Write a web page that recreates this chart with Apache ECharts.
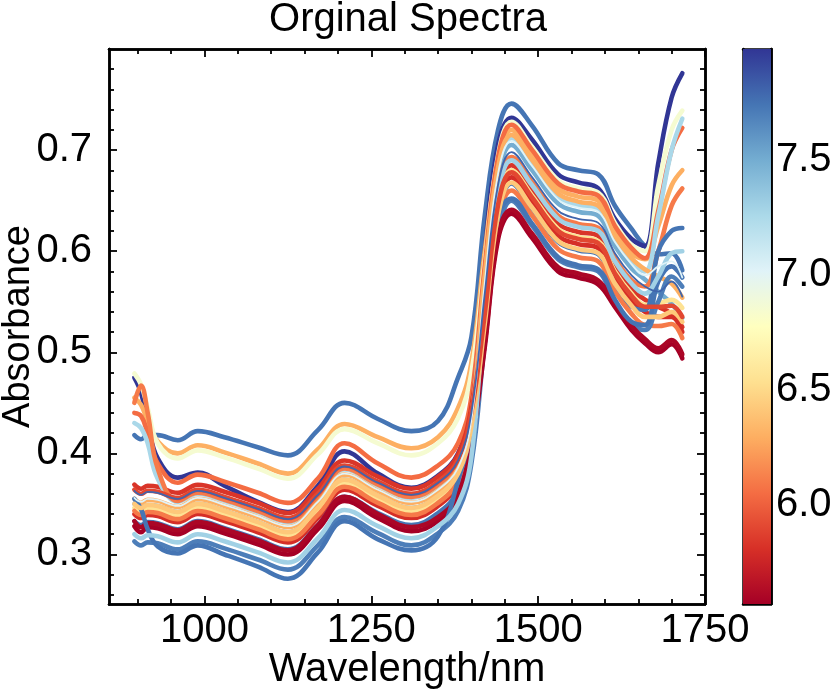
<!DOCTYPE html>
<html><head><meta charset="utf-8">
<script src="https://cdn.jsdelivr.net/npm/echarts@6/dist/echarts.min.js"></script>
<style>html,body{margin:0;padding:0;background:#fff}#c{width:838px;height:695px}</style>
</head><body><div id="c"></div>
<script>
// ---------------- data ----------------
const wavelengths = [895, 905, 915, 930, 960, 990, 1030, 1080, 1125, 1170, 1210, 1260, 1310, 1350, 1380, 1400, 1420, 1440, 1460, 1490, 1530, 1560, 1590, 1615, 1640, 1660, 1680, 1700, 1716];

// colour value (colorbar) of each spectrum
const levels = [7.74, 7.98, 6.30, 6.85, 6.05, 5.83, 7.26, 7.50, 6.10, 6.30, 6.55, 5.80, 7.74, 6.10, 7.70, 5.57, 5.60, 7.74, 7.30, 6.42, 5.90, 7.02, 7.80];
const thinSpectra = [21, 22];

const s01 = [.418,.414,.418,.418,.413,.422,.416,.406,.398,.423,.450,.434,.422,.432,.475,.515,.635,.720,.746,.725,.687,.680,.676,.645,.622,.605,.597,.598,.581];
const s02 = [.475,.460,.430,.395,.376,.381,.368,.352,.342,.368,.402,.380,.366,.378,.400,.447,.600,.705,.732,.711,.676,.668,.662,.632,.612,.605,.687,.752,.776];
const s03 = [.455,.448,.432,.412,.400,.408,.401,.390,.380,.404,.429,.416,.405,.416,.445,.490,.600,.690,.720,.696,.662,.654,.650,.620,.598,.592,.625,.665,.680];
const s04 = [.479,.468,.445,.410,.395,.403,.396,.385,.375,.399,.424,.410,.398,.410,.435,.480,.590,.695,.728,.704,.670,.662,.658,.628,.606,.600,.665,.720,.739];
const s05 = [.440,.437,.420,.390,.371,.379,.372,.361,.351,.375,.410,.390,.376,.388,.410,.456,.585,.693,.725,.701,.667,.659,.655,.625,.603,.593,.640,.700,.722];
const s06 = [.369,.365,.368,.367,.361,.369,.362,.351,.341,.365,.393,.377,.365,.377,.399,.446,.545,.653,.685,.661,.627,.619,.615,.585,.563,.552,.545,.538,.525];
const s07 = [.430,.425,.410,.375,.352,.360,.353,.342,.332,.356,.384,.368,.356,.368,.390,.437,.571,.679,.711,.687,.653,.645,.641,.611,.589,.580,.635,.700,.731];
const s08 = [.350,.346,.349,.348,.342,.350,.343,.332,.322,.346,.374,.358,.346,.358,.380,.427,.565,.673,.705,.681,.647,.639,.635,.605,.583,.572,.560,.548,.534];
const s09 = [.450,.467,.440,.385,.353,.361,.354,.343,.333,.357,.385,.369,.357,.369,.391,.438,.553,.661,.693,.669,.635,.627,.623,.593,.571,.565,.600,.645,.662];
const s10 = [.355,.351,.354,.353,.347,.355,.348,.337,.327,.351,.379,.363,.351,.363,.385,.432,.575,.683,.715,.691,.657,.649,.645,.615,.593,.582,.575,.568,.554];
const s11 = [.346,.342,.345,.344,.338,.346,.339,.328,.318,.342,.370,.354,.342,.354,.376,.423,.540,.648,.680,.656,.622,.614,.610,.580,.558,.547,.548,.552,.544];
const s12 = [.340,.336,.339,.338,.332,.340,.333,.322,.312,.336,.364,.348,.336,.348,.370,.417,.533,.641,.673,.649,.615,.607,.603,.573,.551,.540,.535,.535,.520];
const s13 = [.333,.329,.332,.331,.325,.333,.326,.315,.305,.329,.357,.341,.329,.341,.363,.410,.527,.635,.667,.643,.609,.601,.597,.567,.545,.542,.600,.620,.623];
const s14 = [.343,.339,.342,.341,.335,.343,.336,.325,.315,.339,.367,.351,.339,.351,.373,.420,.520,.628,.660,.636,.602,.594,.590,.560,.538,.527,.526,.528,.514];
const s15 = [.313,.309,.312,.311,.305,.313,.306,.295,.285,.309,.337,.321,.309,.321,.343,.390,.510,.618,.650,.626,.592,.584,.580,.550,.528,.522,.550,.575,.565];
const s16 = [.328,.322,.327,.326,.320,.328,.321,.310,.300,.325,.353,.336,.323,.333,.355,.410,.505,.612,.637,.614,.580,.574,.567,.545,.522,.509,.500,.508,.494];
const s17 = [.333,.327,.331,.330,.324,.332,.325,.314,.304,.329,.357,.340,.327,.337,.359,.414,.509,.616,.641,.618,.584,.578,.571,.549,.526,.513,.504,.512,.498];
const s18 = [.355,.345,.325,.308,.301,.309,.300,.288,.276,.302,.333,.315,.304,.318,.373,.425,.540,.635,.652,.628,.594,.586,.582,.552,.530,.527,.570,.585,.574];
const s19 = [.320,.316,.319,.318,.312,.320,.313,.302,.292,.316,.344,.328,.316,.328,.350,.397,.550,.658,.690,.666,.632,.624,.620,.590,.568,.558,.575,.598,.600];
const s20 = [.350,.346,.349,.348,.342,.350,.343,.332,.322,.346,.374,.358,.346,.358,.380,.427,.528,.636,.668,.644,.610,.602,.598,.568,.546,.535,.535,.540,.530];
const s21 = [.364,.360,.363,.362,.356,.364,.357,.346,.336,.360,.388,.372,.360,.372,.394,.441,.538,.646,.678,.654,.620,.612,.608,.578,.556,.545,.545,.546,.535];
const s22 = [.356,.352,.355,.354,.348,.356,.349,.338,.328,.352,.380,.364,.352,.364,.386,.433,.569,.677,.709,.685,.651,.643,.639,.609,.587,.576,.585,.590,.574];
const s23 = [.363,.359,.362,.361,.355,.363,.356,.345,.335,.359,.387,.371,.359,.371,.393,.440,.558,.666,.698,.674,.640,.632,.628,.598,.576,.565,.560,.570,.555];
const spectra = [s01,s02,s03,s04,s05,s06,s07,s08,s09,s10,s11,s12,s13,s14,s15,s16,s17,s18,s19,s20,s21,s22,s23];

// ticks
const xMajorTicks = [1000, 1250, 1500, 1750];
const xMinorTicks = [900, 950, 1050, 1100, 1150, 1200, 1300, 1350, 1400, 1450, 1550, 1600, 1650, 1700];
const yMajorTicks = [0.3, 0.4, 0.5, 0.6, 0.7];
const yMinorTicks = [0.26, 0.28, 0.32, 0.34, 0.36, 0.38, 0.42, 0.44, 0.46, 0.48, 0.52, 0.54, 0.56, 0.58, 0.62, 0.64, 0.66, 0.68, 0.72, 0.74, 0.76, 0.78];
const cbMajorTicks = [6.0, 6.5, 7.0, 7.5];
const cbMinorTicks = [5.6, 5.7, 5.8, 5.9, 6.1, 6.2, 6.3, 6.4, 6.6, 6.7, 6.8, 6.9, 7.1, 7.2, 7.3, 7.4, 7.6, 7.7, 7.8, 7.9];
const cbMin = 5.57, cbMax = 7.98;

// ---------------- styling ----------------
const rdylbu = ['#a50026','#d73027','#f46d43','#fdae61','#fee090','#ffffbf','#e0f3f8','#abd9e9','#74add1','#4575b4','#313695'];
function hex2rgb(h){return [parseInt(h.substr(1,2),16),parseInt(h.substr(3,2),16),parseInt(h.substr(5,2),16)];}
function colorFor(v){
  let t = (v - cbMin) / (cbMax - cbMin); t = Math.max(0, Math.min(1, t));
  const p = t * (rdylbu.length - 1), i = Math.min(Math.floor(p), rdylbu.length - 2), f = p - i;
  const a = hex2rgb(rdylbu[i]), b = hex2rgb(rdylbu[i+1]);
  const c = a.map((x,k)=>Math.round(x + (b[k]-x)*f));
  return 'rgb(' + c.join(',') + ')';
}
const FONT = 'Liberation Sans, Arial, Helvetica, sans-serif';
const FS = 40;
const FSY = 38;
const black = '#000';
const G = {left:109, top:49, width:596, height:555};
const CB = {left:743, top:49, width:28, height:555};

function tickAxis(base, pos, vals, len, extra){
  return Object.assign({
    type:'value', position:pos, min:base.min, max:base.max, gridIndex:base.grid,
    axisLine:{show:true, onZero:false, lineStyle:{color:black, width:2.5}},
    axisTick:{show:true, inside:true, length:len, customValues:vals, lineStyle:{color:black, width:1.8}},
    axisLabel:{show:false}, splitLine:{show:false}
  }, extra || {});
}
const xb = {min:857, max:1750, grid:0};
const yb = {min:0.251, max:0.80, grid:0};
const cb = {min:cbMin, max:cbMax, grid:1};

const series = spectra.map((arr, i) => ({
  type:'line', xAxisIndex:0, yAxisIndex:0, name:'s'+(i+1),
  data: arr.map((v, k) => [wavelengths[k], v]),
  smooth:0.4, showSymbol:false, symbol:'none', clip:true,
  lineStyle:{width: thinSpectra.includes(i) ? 1.8 : 4.6, color: colorFor(levels[i]), cap:'round', join:'round'},
  z: 2
}));
series.push({
  type:'bar', xAxisIndex:4, yAxisIndex:4, data:[cbMax], barWidth:'100%', clip:true,
  itemStyle:{color: new echarts.graphic.LinearGradient(0, CB.top, 0, CB.top + CB.height,
    rdylbu.slice().reverse().map((c, k) => ({offset: k / (rdylbu.length - 1), color: c})), true)},
  z: 1
});

const option = {
  animation:false,
  backgroundColor:'#fff',
  textStyle:{fontFamily:FONT},
  title:{text:'Orginal Spectra', left:408, top:0, textAlign:'center', padding:0,
    textStyle:{fontFamily:FONT, fontSize:FS, fontWeight:'normal', color:black}},
  grid:[
    Object.assign({containLabel:false, outerBoundsMode:'none'}, G),
    Object.assign({containLabel:false, outerBoundsMode:'none'}, CB)
  ],
  xAxis:[
    tickAxis(xb, 'bottom', xMajorTicks, 8, {
      axisLabel:{show:true, customValues:xMajorTicks, formatter:v=>String(v), fontSize:FS, color:black, fontFamily:FONT, margin:7},
      name:'Wavelength/nm', nameLocation:'middle', nameGap:46, nameMoveOverlap:false,
      nameTextStyle:{fontSize:FS, color:black, fontFamily:FONT}
    }),
    tickAxis(xb, 'bottom', xMinorTicks, 5),
    tickAxis(xb, 'top', xMajorTicks, 8),
    tickAxis(xb, 'top', xMinorTicks, 5),
    {type:'category', gridIndex:1, data:['cb'], position:'bottom',
      axisLine:{show:true, onZero:false, lineStyle:{color:black, width:2.5}}, axisTick:{show:false}, axisLabel:{show:false}, splitLine:{show:false}},
    {type:'category', gridIndex:1, data:['cb'], position:'top',
      axisLine:{show:true, onZero:false, lineStyle:{color:black, width:2.5}}, axisTick:{show:false}, axisLabel:{show:false}, splitLine:{show:false}}
  ],
  yAxis:[
    tickAxis(yb, 'left', yMajorTicks, 8, {
      axisLabel:{show:true, customValues:yMajorTicks, formatter:v=>v.toFixed(1), fontSize:FS, color:black, fontFamily:FONT, margin:17},
      name:'Absorbance', nameLocation:'middle', nameGap:71, nameMoveOverlap:false,
      nameTextStyle:{fontSize:FSY, color:black, fontFamily:FONT}
    }),
    tickAxis(yb, 'left', yMinorTicks, 5),
    tickAxis(yb, 'right', yMajorTicks, 8),
    tickAxis(yb, 'right', yMinorTicks, 5),
    tickAxis(cb, 'right', cbMajorTicks, 9, {
      startValue:cbMin,
      axisLabel:{show:true, customValues:cbMajorTicks, formatter:v=>v.toFixed(1), fontSize:FS, color:black, fontFamily:FONT, margin:5}
    }),
    tickAxis(cb, 'right', cbMinorTicks, 5),
    tickAxis(cb, 'left', [], 0, {axisTick:{show:false}})
  ],
  series: series
};
const chart = echarts.init(document.getElementById('c'), null, {renderer:'canvas'});
chart.setOption(option);
</script>
</body></html>
